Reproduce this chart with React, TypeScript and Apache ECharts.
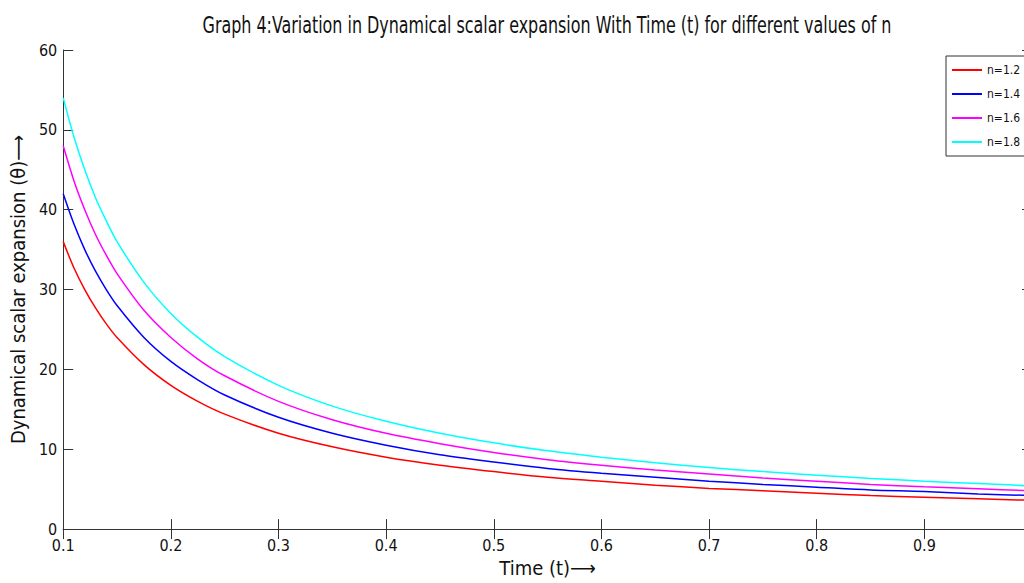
import React, { useEffect, useRef } from "react";
import * as echarts from "echarts";

const tValues = [0.1, 0.11, 0.12, 0.13, 0.14, 0.15, 0.175, 0.2, 0.225, 0.25, 0.3, 0.35, 0.4, 0.45, 0.5, 0.55, 0.6, 0.65, 0.7, 0.75, 0.8, 0.85, 0.9, 0.95, 1.0];
const thetaN12 = [36, 32.7, 30, 27.7, 25.7, 24, 20.6, 18, 16, 14.4, 12, 10.3, 9, 8, 7.2, 6.5, 6, 5.5, 5.1, 4.8, 4.5, 4.2, 4, 3.8, 3.6];
const thetaN14 = [42, 38.2, 35, 32.3, 30, 28, 24, 21, 18.7, 16.8, 14, 12, 10.5, 9.3, 8.4, 7.6, 7, 6.5, 6, 5.6, 5.25, 4.9, 4.7, 4.4, 4.2];
const thetaN16 = [48, 43.6, 40, 36.9, 34.3, 32, 27.4, 24, 21.3, 19.2, 16, 13.7, 12, 10.7, 9.6, 8.7, 8, 7.4, 6.9, 6.4, 6, 5.6, 5.3, 5.05, 4.8];
const thetaN18 = [54, 49.1, 45, 41.5, 38.6, 36, 30.9, 27, 24, 21.6, 18, 15.4, 13.5, 12, 10.8, 9.8, 9, 8.3, 7.7, 7.2, 6.75, 6.35, 6, 5.7, 5.4];
const seriesNames = ["n=1.2", "n=1.4", "n=1.6", "n=1.8"];
const seriesColors = ["#ff0000", "#0000ff", "#ff00ff", "#00ffff"];
const xTicks = { min: 0.1, max: 1.0, interval: 0.1 };
const yTicks = { min: 0, max: 60, interval: 10 };
const titleText = "Graph 4:Variation in Dynamical scalar expansion With Time (t) for different values of n";

const FONT = "'DejaVu Sans Condensed', 'Liberation Sans Narrow', sans-serif";

export default function App() {
  const ref = useRef<HTMLDivElement>(null);
  useEffect(() => {
    if (!ref.current) return;
    const chart = echarts.init(ref.current, undefined, { renderer: "svg" });
    const all = [thetaN12, thetaN14, thetaN16, thetaN18];
    const axisLineStyle = { color: "#333", width: 1 };
    chart.setOption({
      animation: false,
      backgroundColor: "#fff",
      textStyle: { fontFamily: FONT },
      graphic: [
        {
          type: "text",
          x: 547,
          y: 25,
          scaleX: 0.77,
          style: {
            text: titleText,
            fontFamily: FONT,
            fontSize: 23,
            fill: "#111",
            textAlign: "center",
            textVerticalAlign: "middle",
          },
        },
      ],
      legend: {
        orient: "vertical",
        left: 946,
        top: 56,
        borderColor: "#333",
        borderWidth: 1,
        backgroundColor: "#fff",
        padding: [6, 30, 6, 6],
        itemWidth: 30,
        itemHeight: 2,
        itemGap: 8,
        icon: "rect",
        data: seriesNames,
        textStyle: { fontFamily: FONT, fontSize: 12, color: "#111", lineHeight: 16 },
      },
      grid: { left: 63, right: 8, top: 50, bottom: 53 },
      xAxis: [
        {
          type: "value",
          min: xTicks.min,
          max: xTicks.max,
          interval: xTicks.interval,
          position: "bottom",
          name: "Time (t)⟶",
          nameLocation: "middle",
          nameGap: 25,
          nameTextStyle: { fontFamily: FONT, fontSize: 20, color: "#111" },
          axisLine: { show: true, lineStyle: axisLineStyle },
          axisTick: { show: true, inside: true, length: 10, lineStyle: axisLineStyle },
          axisLabel: {
            fontFamily: FONT,
            fontSize: 16,
            color: "#111",
            margin: 8,
            formatter: (v: number) => (Math.abs(v - 1) < 1e-9 ? "" : String(Math.round(v * 10) / 10)),
          },
          splitLine: { show: false },
        },
        {
          type: "value",
          min: xTicks.min,
          max: xTicks.max,
          interval: xTicks.interval,
          position: "top",
          axisLine: { show: true, lineStyle: axisLineStyle },
          axisTick: { show: true, inside: true, length: 10, lineStyle: axisLineStyle },
          axisLabel: { show: false },
          splitLine: { show: false },
        },
      ],
      yAxis: [
        {
          type: "value",
          min: yTicks.min,
          max: yTicks.max,
          interval: yTicks.interval,
          position: "left",
          name: "Dynamical scalar expansion (θ)⟶",
          nameLocation: "middle",
          nameGap: 31,
          nameTextStyle: { fontFamily: FONT, fontSize: 20, color: "#111" },
          axisLine: { show: true, lineStyle: axisLineStyle },
          axisTick: { show: true, inside: true, length: 10, lineStyle: axisLineStyle },
          axisLabel: { fontFamily: FONT, fontSize: 16, color: "#111", margin: 6, lineHeight: 14 },
          splitLine: { show: false },
        },
        {
          type: "value",
          min: yTicks.min,
          max: yTicks.max,
          interval: yTicks.interval,
          position: "right",
          axisLine: { show: true, lineStyle: axisLineStyle },
          axisTick: { show: true, inside: true, length: 10, lineStyle: axisLineStyle },
          axisLabel: { show: false },
          splitLine: { show: false },
        },
      ],
      series: seriesNames.map((name, i) => ({
        name,
        type: "line",
        xAxisIndex: 0,
        yAxisIndex: 0,
        smooth: 0.3,
        showSymbol: false,
        symbol: "none",
        lineStyle: { color: seriesColors[i], width: 1.5 },
        itemStyle: { color: seriesColors[i] },
        data: tValues.map((t, k) => [t, all[i][k]]),
      })),
    });
    return () => chart.dispose();
  }, []);
  return (
    <div style={{ position: "fixed", left: 0, top: 0, width: 1024, height: 583, overflow: "hidden", background: "#fff" }}>
      <div ref={ref} style={{ position: "absolute", left: 0, top: 0, width: 1040, height: 583 }} />
    </div>
  );
}
